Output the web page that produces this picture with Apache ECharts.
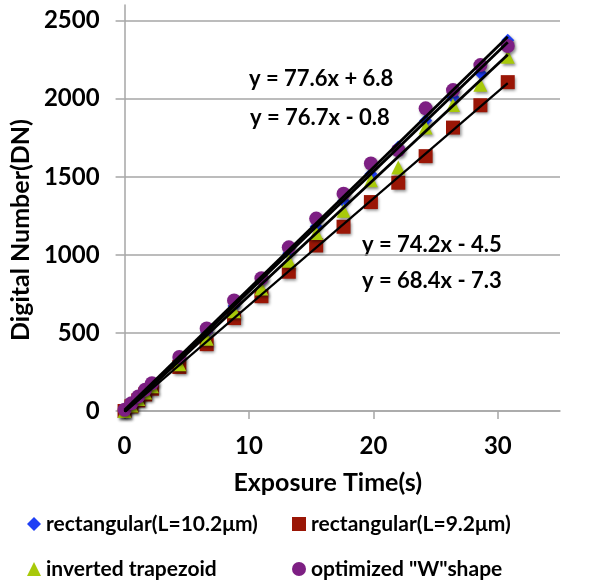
<!DOCTYPE html>
<html>
<head>
<meta charset="utf-8">
<script src="https://cdn.jsdelivr.net/npm/echarts@6/dist/echarts.min.js"></script>
<style>html,body{margin:0;padding:0;background:#fff}#c{width:590px;height:583px}</style>
</head>
<body>
<div id="c"></div>
<script>
// Exposure times (s)
const times = [0, 0.55, 1.1, 1.65, 2.2, 4.4, 6.6, 8.8, 11, 13.2, 15.4, 17.6, 19.8, 22, 24.2, 26.4, 28.6, 30.8];
// Digital number values per pixel design
const rect102 = [0, 41, 84, 126, 168, 338, 506, 672, 845, 1010, 1182, 1345, 1518, 1690, 1860, 2010, 2165, 2375];
const rect92 = [0, 30, 68, 106, 143, 282, 428, 595, 735, 892, 1060, 1180, 1338, 1462, 1632, 1815, 1958, 2106];
const invTrap = [0, 36, 77, 118, 158, 300, 462, 638, 785, 962, 1140, 1282, 1478, 1560, 1815, 1960, 2090, 2268];
const optW = [8, 50, 93, 136, 178, 346, 528, 708, 850, 1048, 1232, 1392, 1585, 1670, 1938, 2055, 2215, 2337];
// Series names
const names = ['rectangular(L=10.2μm)', 'rectangular(L=9.2μm)', 'inverted trapezoid', 'optimized "W"shape'];
// Linear fit equations shown on the chart (slope, intercept) per series
const slopes = [76.7, 68.4, 74.2, 77.6];
const intercepts = [-0.8, -7.3, -4.5, 6.8];
// Axis ticks
const xTicks = [0, 10, 20, 30];
const yTicks = [0, 500, 1000, 1500, 2000, 2500];

const FONT = 'Lato';
const colors = ['#1f3ff5', '#9a1606', '#a8c90a', '#7d1f83'];
const symbols = ['diamond', 'rect', 'triangle', 'circle'];
const sizes = [13, 14, 14, 14];
const allVals = [rect102, rect92, invTrap, optW];

const chart = echarts.init(document.getElementById('c'), null, {renderer: 'canvas'});

const scatterSeries = allVals.map((vals, i) => ({
  name: names[i],
  type: 'scatter',
  symbol: symbols[i],
  symbolSize: sizes[i],
  z: 2 + i,
  itemStyle: {
    color: colors[i], opacity: 1,
    shadowColor: 'rgba(0,0,0,0.45)', shadowBlur: 3, shadowOffsetX: 1.5, shadowOffsetY: 2
  },
  emphasis: {disabled: true},
  data: times.map((t, k) => [t, vals[k]])
}));

const tMin = times[0], tMax = times[times.length - 1];
const lineSeries = slopes.map((m, i) => ({
  type: 'line',
  name: 'fit' + i,
  symbol: 'none',
  silent: true,
  z: 10,
  lineStyle: {color: '#000', width: i === 1 ? 2.2 : 2.8},
  data: [[tMin, m * tMin + intercepts[i]], [tMax, m * tMax + intercepts[i]]]
}));

const eqText = (i) => 'y = ' + slopes[i] + 'x ' + (intercepts[i] < 0 ? '- ' : '+ ') + Math.abs(intercepts[i]);
// equation label placement (pixels)
const eqPos = [[250, 120], [362, 283], [362, 247], [249, 81]];

const textStyleBase = {fontFamily: FONT, fontWeight: 'bold', fontSize: 20, color: '#000'};

chart.setOption({
  animation: false,
  backgroundColor: '#fff',
  grid: {left: 122, top: 5, right: 30, bottom: 172, containLabel: false},
  xAxis: {
    type: 'value', min: 0, max: 35, interval: 10,
    axisLine: {show: true, lineStyle: {color: '#a6a6a6', width: 1.5}},
    axisTick: {show: true, length: 8, lineStyle: {color: '#a6a6a6', width: 1.5}},
    splitLine: {show: false},
    axisLabel: {margin: 23, showMaxLabel: false, ...textStyleBase, fontSize: 24,
      formatter: v => xTicks.includes(v) ? String(v) : ''},
    name: 'Exposure Time(s)', nameLocation: 'middle', nameGap: 59,
    nameTextStyle: {...textStyleBase, fontSize: 25, padding: [0, 29, 0, 0]}
  },
  yAxis: {
    type: 'value', min: 0, max: 2600, interval: 500,
    axisLine: {show: true, lineStyle: {color: '#a6a6a6', width: 1.5}},
    axisTick: {show: true, length: 9, lineStyle: {color: '#a6a6a6', width: 1.5}},
    splitLine: {show: true, showMaxLine: false, lineStyle: {color: '#a6a6a6', width: 1.5}},
    axisLabel: {margin: 25, showMaxLabel: false, ...textStyleBase, fontSize: 24,
      formatter: v => yTicks.includes(v) ? String(v) : ''},
    name: 'Digital Number(DN)', nameLocation: 'middle', nameGap: 87, nameRotate: 90,
    nameTextStyle: {...textStyleBase, fontSize: 25, padding: [0, 44, 0, 0]}
  },
  legend: [
    {data: [names[0], names[2]], orient: 'vertical', left: 27, top: 511, padding: 0, itemWidth: 14, itemHeight: 14,
     itemGap: 19, selectedMode: false, textStyle: {...textStyleBase, fontSize: 21, lineHeight: 26}},
    {data: [names[1], names[3]], orient: 'vertical', left: 292, top: 511, padding: 0, itemWidth: 14, itemHeight: 14,
     itemGap: 19, selectedMode: false, textStyle: {...textStyleBase, fontSize: 21, lineHeight: 26}}
  ],
  graphic: eqPos.map((p, i) => ({
    type: 'text', left: p[0], top: p[1] - 13, silent: true,
    style: {text: eqText(i), font: 'bold 22px ' + FONT, fill: '#000'}
  })),
  series: [...scatterSeries, ...lineSeries]
});
</script>
</body>
</html>
